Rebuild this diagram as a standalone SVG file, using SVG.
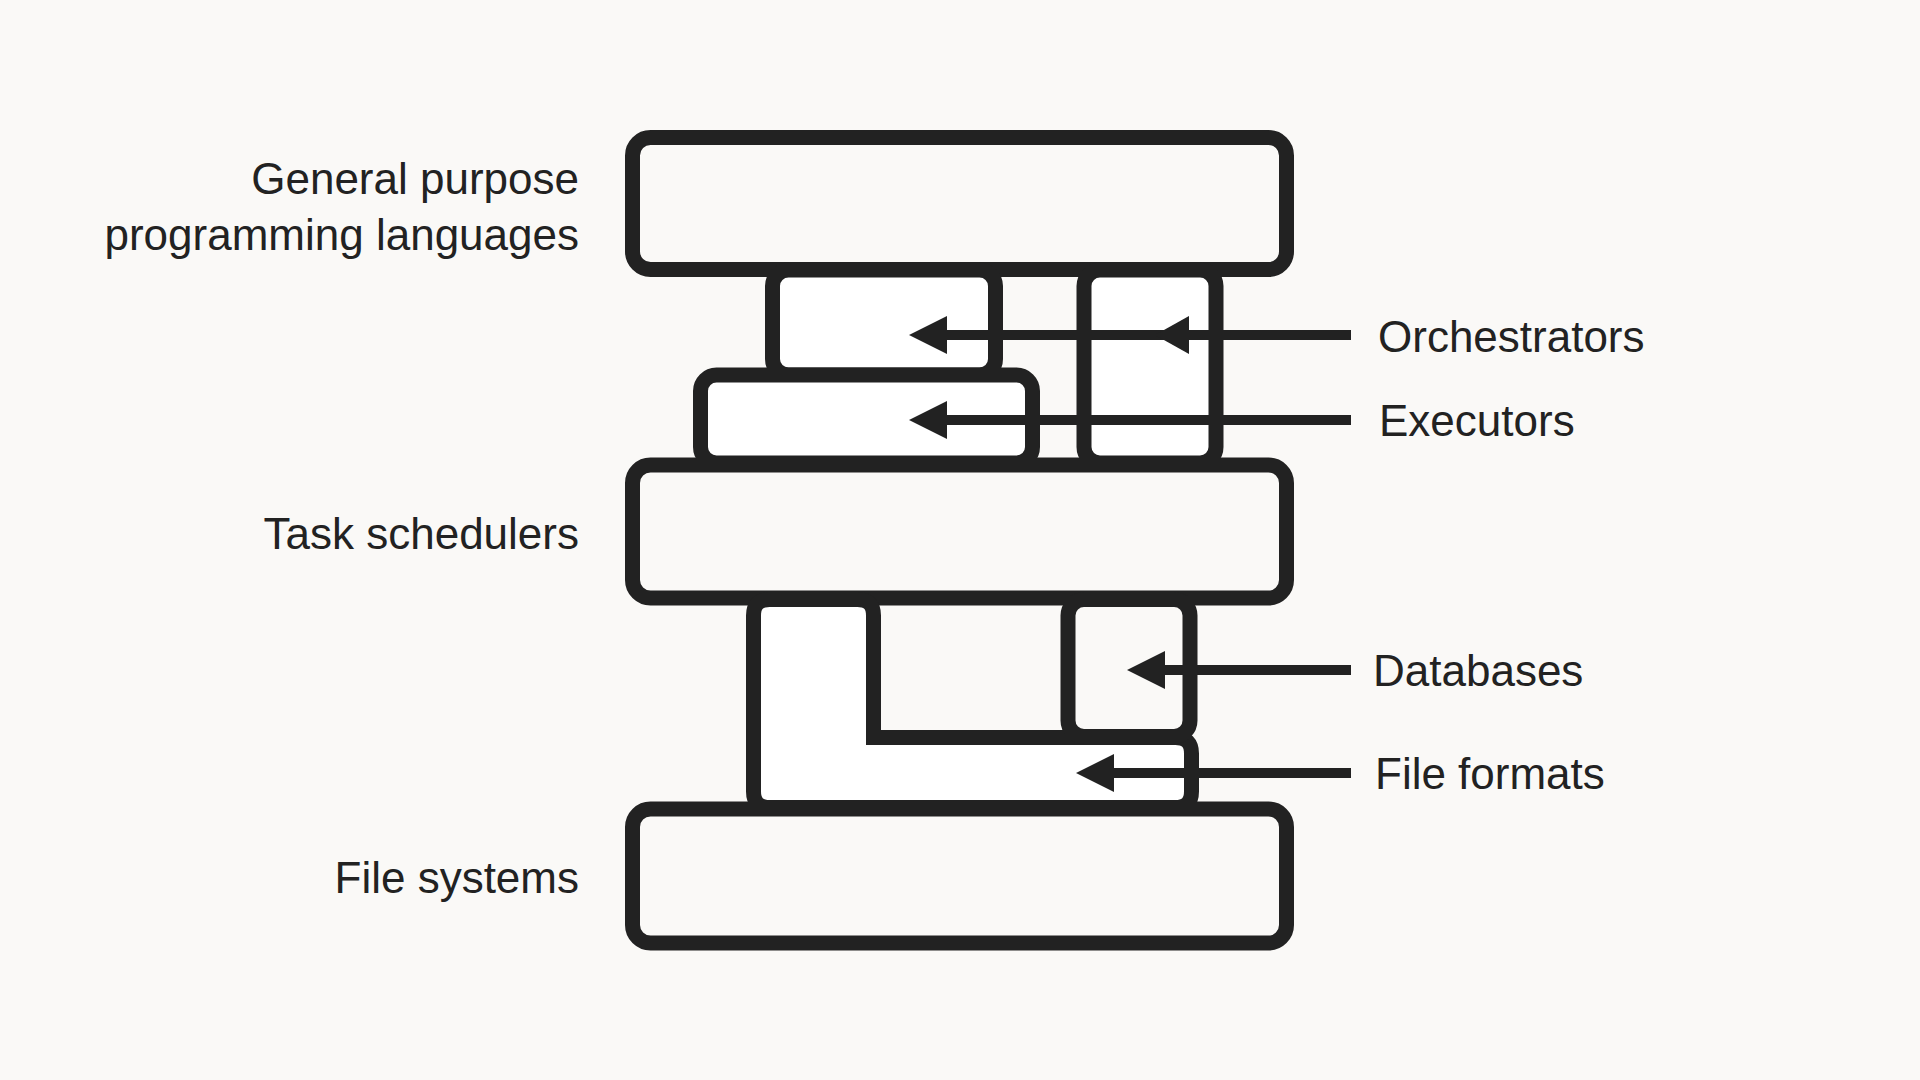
<svg xmlns="http://www.w3.org/2000/svg" width="1920" height="1080" viewBox="0 0 1920 1080">
<style>
.b{stroke:#222;stroke-width:15;fill:#faf9f7}
.w{stroke:#222;stroke-width:15;fill:#fff}
.c{stroke:#222;stroke-width:10;fill:none}
.h{fill:#222}
text{font-family:"Liberation Sans",Arial,sans-serif;font-size:44px;fill:#222}
.r{text-anchor:end}
</style>
<rect width="1920" height="1080" fill="#faf9f7"/>
<g id="general"><rect class="b" x="632.5" y="137.5" width="654" height="132" rx="18"/></g>
<g id="orchestrator-left"><rect class="w" x="772.5" y="270" width="223" height="105" rx="16"/></g>
<g id="orchestrator-right"><rect class="w" x="1084" y="270" width="132" height="193" rx="16"/></g>
<g id="executors"><rect class="w" x="700.5" y="375" width="332" height="88" rx="16"/></g>
<g id="task"><rect class="b" x="632.5" y="465" width="654" height="133" rx="18"/></g>
<g id="fileformats"><path class="w" d="M769.5 599.5 H857.5 Q873.5 599.5 873.5 615.5 V737.5 H1175.5 Q1191.5 737.5 1191.5 753.5 V791.5 Q1191.5 807.5 1175.5 807.5 H769.5 Q753.5 807.5 753.5 791.5 V615.5 Q753.5 599.5 769.5 599.5 Z"/></g>
<g id="databases"><rect class="b" x="1068" y="599.5" width="122" height="137" rx="16"/></g>
<g id="filesystems"><rect class="b" x="632.5" y="809" width="654" height="134" rx="18"/></g>
<g id="connectors">
<line class="c" x1="945" y1="335" x2="1351" y2="335"/>
<polygon class="h" points="909,335 947,316 947,354"/>
<polygon class="h" points="1155,335 1189,316 1189,354"/>
<line class="c" x1="945" y1="420" x2="1351" y2="420"/>
<polygon class="h" points="909,420 947,401 947,439"/>
<line class="c" x1="1163" y1="670" x2="1351" y2="670"/>
<polygon class="h" points="1127,670 1165,651 1165,689"/>
<line class="c" x1="1112" y1="773" x2="1351" y2="773"/>
<polygon class="h" points="1076,773 1114,754 1114,792"/>
</g>
<g id="labels">
<text class="r" x="579" y="194">General purpose</text>
<text class="r" x="579" y="250">programming languages</text>
<text class="r" x="579" y="549">Task schedulers</text>
<text class="r" x="579" y="893">File systems</text>
<text x="1378" y="352">Orchestrators</text>
<text x="1379" y="436">Executors</text>
<text x="1373" y="686">Databases</text>
<text x="1375" y="789">File formats</text>
</g>
</svg>
